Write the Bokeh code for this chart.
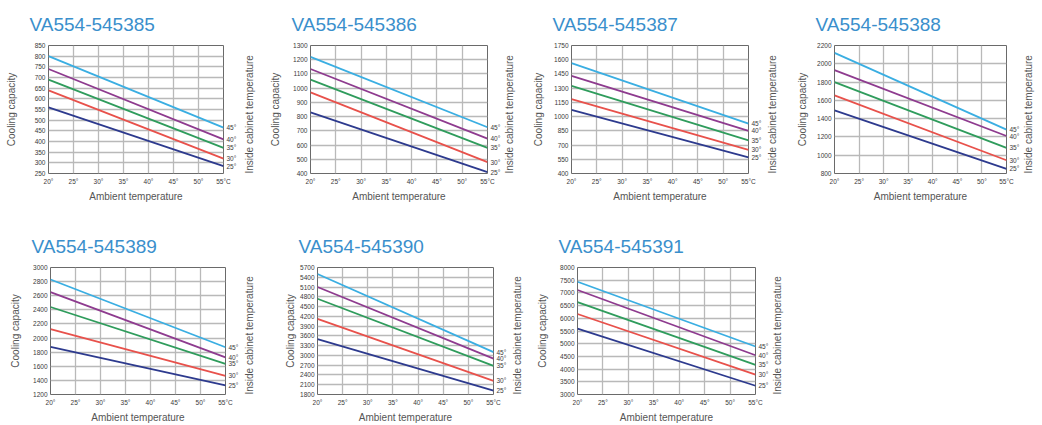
import math
from bokeh.plotting import figure
from bokeh.layouts import column, row
from bokeh.models import Range1d, LinearAxis, FixedTicker
from bokeh.embed import file_html
from bokeh.resources import INLINE

# ---------------- data ----------------
AMBIENT_T = [20, 55]
X_TICKS = [20, 25, 30, 35, 40, 45, 50, 55]
X_TICK_LABELS = ["20°", "25°", "30°", "35°", "40°", "45°", "50°", "55°C"]
INSIDE_T = ["45°", "40°", "35°", "30°", "25°"]
LINE_COLORS = ["#3aaee2", "#8e3b8f", "#2f9c5c", "#e8514b", "#2d3a8e"]

MODELS = ["VA554-545385", "VA554-545386", "VA554-545387", "VA554-545388",
          "VA554-545389", "VA554-545390", "VA554-545391"]

# cooling capacity at 20 °C and 55 °C ambient, per inside temperature 45/40/35/30/25
CAP20_545385 = [800, 740, 690, 640, 560]
CAP55_545385 = [465, 410, 370, 320, 285]
YTICKS_545385 = [250, 300, 350, 400, 450, 500, 550, 600, 650, 700, 750, 800, 850]

CAP20_545386 = [1220, 1135, 1060, 970, 830]
CAP55_545386 = [725, 645, 580, 480, 410]
YTICKS_545386 = [400, 500, 600, 700, 800, 900, 1000, 1100, 1200, 1300]

CAP20_545387 = [1565, 1430, 1325, 1185, 1070]
CAP55_545387 = [925, 850, 750, 650, 570]
YTICKS_545387 = [400, 550, 700, 850, 1000, 1150, 1300, 1450, 1600, 1750]

CAP20_545388 = [2120, 1930, 1800, 1655, 1490]
CAP55_545388 = [1280, 1210, 1080, 945, 850]
YTICKS_545388 = [800, 1000, 1200, 1400, 1600, 1800, 2000, 2200]

CAP20_545389 = [2830, 2650, 2440, 2125, 1875]
CAP55_545389 = [1870, 1725, 1635, 1465, 1330]
YTICKS_545389 = [1200, 1400, 1600, 1800, 2000, 2200, 2400, 2600, 2800, 3000]

CAP20_545390 = [5500, 5100, 4740, 4120, 3500]
CAP55_545390 = [3100, 2900, 2680, 2220, 1920]
YTICKS_545390 = [1800, 2100, 2400, 2700, 3000, 3300, 3600, 3900, 4200, 4500,
                 4800, 5100, 5400, 5700]

CAP20_545391 = [7440, 7115, 6640, 6170, 5590]
CAP55_545391 = [4890, 4545, 4170, 3780, 3345]
YTICKS_545391 = [3000, 3500, 4000, 4500, 5000, 5500, 6000, 6500, 7000, 7500, 8000]

FONT = "Liberation Sans"
TICK_SIZE = "6.5px"
LABEL_SIZE = "10px"
TICK_COLOR = "#3a3a3a"
LABEL_COLOR = "#555555"
TITLE_COLOR = "#3a8fcc"
GRID_COLOR = "#b9b9b9"


def style_axis(ax):
    ax.axis_line_color = None
    ax.major_tick_line_color = None
    ax.minor_tick_line_color = None
    ax.major_tick_out = 0
    ax.major_tick_in = 0
    ax.minor_tick_out = 0
    ax.minor_tick_in = 0
    ax.major_label_text_font = FONT
    ax.major_label_text_font_size = TICK_SIZE
    ax.major_label_text_color = TICK_COLOR
    ax.axis_label_text_font = FONT
    ax.axis_label_text_font_size = LABEL_SIZE
    ax.axis_label_text_font_style = "normal"
    ax.axis_label_text_color = LABEL_COLOR


def make_chart(model, cap20, cap55, yticks, w, h, bl, br, bt, bb,
               ylab_standoff, rlab_standoff):
    p = figure(width=w, height=h,
               min_border_left=bl, min_border_right=br,
               min_border_top=bt, min_border_bottom=bb,
               x_range=Range1d(AMBIENT_T[0], AMBIENT_T[-1]),
               y_range=Range1d(yticks[0], yticks[-1]),
               output_backend="svg", toolbar_location=None, title=model)
    p.title.text_font = FONT
    p.title.text_font_size = "19px"
    p.title.text_font_style = "normal"
    p.title.text_color = TITLE_COLOR
    p.title.align = "left"
    p.title.offset = -19
    p.title.standoff = 22

    p.outline_line_color = "#6a6a6a"
    p.outline_line_width = 1
    p.background_fill_color = "white"
    p.border_fill_color = "white"

    xax = p.below[0]
    xax.ticker = FixedTicker(ticks=X_TICKS)
    xax.major_label_overrides = {t: lab for t, lab in zip(X_TICKS, X_TICK_LABELS)}
    xax.axis_label = "Ambient temperature"
    yax = p.left[0]
    yax.ticker = FixedTicker(ticks=yticks)
    yax.axis_label = "Cooling capacity"
    style_axis(xax)
    style_axis(yax)
    xax.major_label_standoff = 4
    xax.axis_label_standoff = 3
    yax.major_label_standoff = 3
    yax.axis_label_standoff = ylab_standoff

    p.xgrid.ticker = FixedTicker(ticks=X_TICKS)
    p.ygrid.ticker = FixedTicker(ticks=yticks)
    for g in (p.xgrid, p.ygrid):
        g.grid_line_color = GRID_COLOR
        g.grid_line_width = 1.3

    for i in range(len(INSIDE_T)):
        p.line(AMBIENT_T, [cap20[i], cap55[i]], line_color=LINE_COLORS[i],
               line_width=1.8)

    rax = LinearAxis(ticker=FixedTicker(ticks=cap55),
                     major_label_overrides={v: lab for v, lab in zip(cap55, INSIDE_T)},
                     axis_label="Inside cabinet temperature")
    style_axis(rax)
    rax.major_label_standoff = 3
    rax.axis_label_orientation = math.pi / 2
    if "axis_label_align" in rax.properties():
        rax.axis_label_align = "start"
    rax.axis_label_standoff = rlab_standoff
    p.add_layout(rax, "right")
    return p


H1 = 216
H2 = 209
p1 = make_chart(MODELS[0], CAP20_545385, CAP55_545385, YTICKS_545385, 265, H1, 48, 42, 42, 43, 15, 10)
p2 = make_chart(MODELS[1], CAP20_545386, CAP55_545386, YTICKS_545386, 262, H1, 45, 40, 42, 43, 9, 6)
p3 = make_chart(MODELS[2], CAP20_545387, CAP55_545387, YTICKS_545387, 265, H1, 44, 44, 42, 43, 7, 8)
p4 = make_chart(MODELS[3], CAP20_545388, CAP55_545388, YTICKS_545388, 250, H1, 42, 31, 42, 43, 6, 6)
p5 = make_chart(MODELS[4], CAP20_545389, CAP55_545389, YTICKS_545389, 270, H2, 50, 45, 51, 29, 9, 8)
p6 = make_chart(MODELS[5], CAP20_545390, CAP55_545390, YTICKS_545390, 262, H2, 47, 39, 51, 29, 1, 8)
p7 = make_chart(MODELS[6], CAP20_545391, CAP55_545391, YTICKS_545391, 268, H2, 45, 45, 51, 29, 9, 6)

layout = column(row(p1, p2, p3, p4, spacing=0), row(p5, p6, p7, spacing=0), spacing=0)

open("out.html", "w").write(file_html(layout, INLINE))
